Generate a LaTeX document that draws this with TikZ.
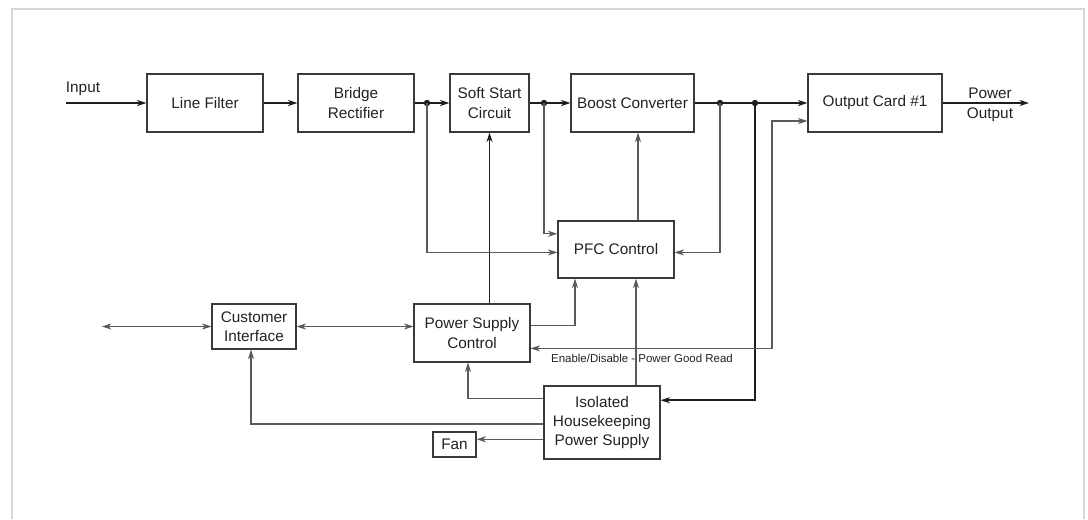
\documentclass[tikz,border=0pt]{standalone}
\usepackage{fontspec}
\setmainfont{Liberation Sans}
\usetikzlibrary{arrows.meta,calc}

\definecolor{framecol}{HTML}{CFDCDD}
\definecolor{thinline}{HTML}{5A5A5A}
\definecolor{thickline}{HTML}{1E1E1E}
\definecolor{boxline}{HTML}{3A3A3A}
\definecolor{txtcol}{HTML}{222222}

\tikzset{
  blk/.style={draw=boxline, line width=0.9pt, align=center, inner sep=0pt,
    text=txtcol, font=\fontsize{11.5}{14.5}\selectfont},
  lbl/.style={text=txtcol, inner sep=0pt, font=\fontsize{11.5}{14.5}\selectfont},
  smalllbl/.style={text=txtcol, inner sep=0pt, font=\fontsize{8.6}{10}\selectfont},
  pwr/.style={draw=thickline, line width=1.5pt, ->},
  sig/.style={draw=thinline, line width=0.8pt, ->},
}

\begin{document}
\begin{tikzpicture}[x=0.75pt, y=-0.75pt,
  >={Stealth[length=7pt,width=4.5pt,inset=2pt]}]
\useasboundingbox (0,0) rectangle (1088,519);

% =========================
% frame
% =========================
\draw[framecol, line width=1.5pt] (12,519) -- (12,9) -- (1084,9) -- (1084,519);

% =========================
% power path blocks
% =========================
\node[blk, minimum width=87pt, minimum height=43.5pt] (filt) at (205,103) {Line Filter};
\node[blk, minimum width=87pt, minimum height=43.5pt] (rect) at (356,103) {Bridge\\Rectifier};
\node[blk, minimum width=59.25pt, minimum height=43.5pt] (soft) at (489.5,103) {Soft Start\\Circuit};
\node[blk, minimum width=92.25pt, minimum height=43.5pt] (boost) at (632.5,103) {Boost Converter};
\node[blk, minimum width=100.5pt, minimum height=43.5pt] (card) at (875,103) {Output Card \#1};

% =========================
% control blocks
% =========================
\node[blk, minimum width=87pt, minimum height=42.75pt] (pfc) at (616,249.5) {PFC Control};
\node[blk, minimum width=63pt, minimum height=33.75pt] (cust) at (254,326.5) {Customer\\Interface};
\node[blk, minimum width=87pt, minimum height=43.5pt] (psc) at (472,333) {Power Supply\\Control};
\node[blk, minimum width=87pt, minimum height=54.75pt] (hk) at (602,422.5) {Isolated\\Housekeeping\\Power Supply};
\node[blk, minimum width=32.25pt, minimum height=18.75pt] (fan) at (454.5,444.5) {Fan};

% labels
\node[lbl] (inlbl) at (83,89) {Input};
\node[lbl] (pwrlbl) at (990,93) {Power};
\node[lbl] (outlbl) at (990,115) {Output};
\node[smalllbl] (enlbl) at (642,358) {Enable/Disable - Power Good Read};

% junctions and free ends
\coordinate (inp) at (66,103);
\coordinate (outp) at (1029,103);
\coordinate (j1) at (427,103);
\coordinate (j2) at (544,103);
\coordinate (j3) at (720,103);
\coordinate (j4) at (755,103);
\coordinate (c1) at (772,121);
\coordinate (ext) at (102,326.5);
\coordinate (bx) at (638,0);
\coordinate (px) at (575,0);
\coordinate (qx) at (636,0);
\coordinate (rx) at (468,0);
\coordinate (sx) at (251,0);
\coordinate (fanin) at ($(fan.north east)!0.3!(fan.south east)$);

% =========================
% power path
% =========================
\draw[pwr] (inp) -- (filt);
\draw[pwr] (filt) -- (rect);
\draw[pwr] (rect) -- (soft);
\draw[pwr] (soft) -- (boost);
\draw[pwr] (boost) -- (card);
\draw[pwr] (card) -- (outp);
\draw[pwr] (j4) |- ($(hk.north east)!0.2!(hk.south east)$);
\draw[pwr, line width=1.1pt] (psc.north -| soft) -- (soft.south);

% dots
\foreach \j in {j1,j2,j3,j4}
  \fill[thickline] (\j) circle (2.4pt);

% =========================
% control lines
% =========================
\draw[sig] (j1) |- ($(pfc.north west)!0.55!(pfc.south west)$);
\draw[sig] (j2) |- ($(pfc.north west)!0.23!(pfc.south west)$);
\draw[sig] (j3) |- ($(pfc.north east)!0.55!(pfc.south east)$);
\draw[sig] (pfc.north -| bx) -- (boost.south -| bx);
\draw[sig] ($(psc.north east)!0.37!(psc.south east)$) -| (pfc.south -| px);
\draw[sig] (hk.north -| qx) -- (pfc.south -| qx);
\draw[sig, <->] ($(psc.north east)!0.76!(psc.south east)$) -| (c1) -- (c1 -| card.west);
\draw[sig] ($(hk.north west)!0.18!(hk.south west)$) -| (psc.south -| rx);
\draw[sig] ($(hk.north west)!0.52!(hk.south west)$) -| (cust.south -| sx);
\draw[sig] (fanin -| hk.west) -- (fanin);
\draw[sig, <->] (ext) -- (ext -| cust.west);
\draw[sig, <->] (cust.east) -- (cust.east -| psc.west);

\end{tikzpicture}
\end{document}
